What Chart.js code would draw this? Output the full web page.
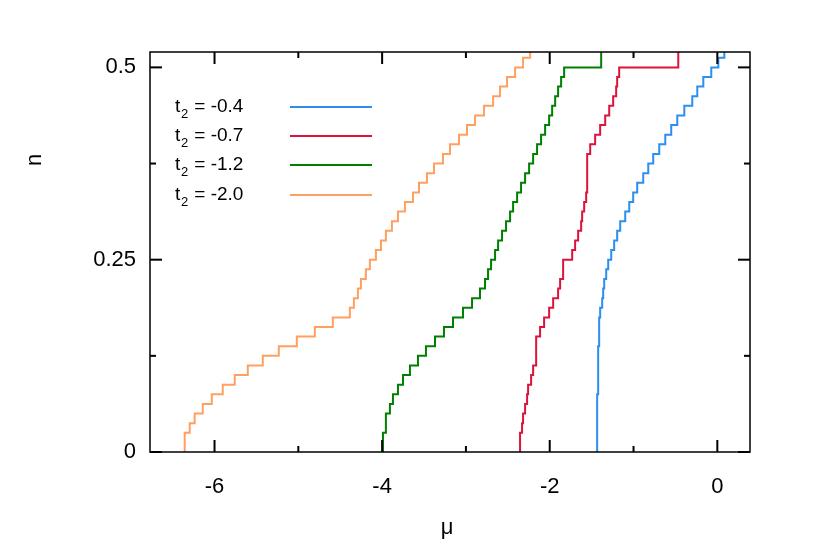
<!DOCTYPE html>
<html>
<head>
<meta charset="utf-8">
<script src="https://cdn.jsdelivr.net/npm/chart.js@4"></script>
<style>
  body { margin: 0; background: #fff; }
  #wrap { width: 830px; height: 552px; }
</style>
</head>
<body>
<div id="wrap"><canvas id="chart" width="830" height="552"></canvas></div>
<script>
// filling step in n, each entry below is the mu where the curve climbs one level
const nStep = 0.0125

const muT04 = [-1.434, -1.434, -1.434, -1.434, -1.434, -1.434, -1.422, -1.422, -1.422, -1.422, -1.422,
    -1.410, -1.410, -1.410, -1.398, -1.374, -1.362, -1.350, -1.326, -1.302, -1.266, -1.231, -1.195,
    -1.159, -1.099, -1.051, -1.004, -0.956, -0.884, -0.824, -0.765, -0.693, -0.621, -0.550, -0.478,
    -0.394, -0.299, -0.239, -0.167, -0.072, 0.012, 0.084]

const muT07 = [-2.354, -2.354, -2.330, -2.318, -2.294, -2.270, -2.258, -2.222, -2.198, -2.162, -2.162,
    -2.162, -2.115, -2.067, -2.007, -1.959, -1.900, -1.876, -1.840, -1.840, -1.732, -1.697, -1.661,
    -1.625, -1.613, -1.589, -1.565, -1.553, -1.553, -1.553, -1.553, -1.517, -1.458, -1.398, -1.338,
    -1.290, -1.243, -1.207, -1.195, -1.171, -0.466]

const muT12 = [-3.990, -3.990, -3.955, -3.955, -3.907, -3.871, -3.811, -3.751, -3.668, -3.572, -3.477,
    -3.369, -3.262, -3.154, -3.035, -2.927, -2.832, -2.772, -2.736, -2.700, -2.652, -2.616, -2.569,
    -2.521, -2.473, -2.437, -2.389, -2.342, -2.294, -2.246, -2.198, -2.151, -2.103, -2.055, -2.007,
    -1.971, -1.935, -1.900, -1.864, -1.828, -1.386]

const muT20 = [-6.356, -6.356, -6.296, -6.237, -6.141, -6.033, -5.902, -5.759, -5.603, -5.424, -5.233,
    -5.018, -4.803, -4.588, -4.385, -4.337, -4.289, -4.253, -4.194, -4.146, -4.074, -4.014, -3.955,
    -3.883, -3.811, -3.728, -3.632, -3.560, -3.465, -3.381, -3.274, -3.190, -3.082, -2.987, -2.891,
    -2.784, -2.676, -2.593, -2.509, -2.413, -2.318, -2.234]

const seriesLabels = ['-0.4', '-0.7', '-1.2', '-2.0']
const seriesColors = ['#2b8ff0', '#dc143c', '#008000', '#ffa060']

const xTicks = [-6, -4, -2, 0]
const xMinor = [-5, -3, -1]
const yTicks = [0, 0.25, 0.5]
const yMinor = [0.125, 0.375]

function toPoints(mu) {
    const pts = mu.map((m, i) => ({ x: m, y: i * nStep }))
    pts.push({ x: mu[mu.length - 1], y: 0.6 })
    return pts
}

const allMu = [muT04, muT07, muT12, muT20]
const datasets = allMu.map((mu, i) => ({
    label: seriesLabels[i],
    data: toPoints(mu),
    borderColor: seriesColors[i],
    borderWidth: 2,
    pointRadius: 0,
    stepped: 'after',
    fill: false
}))

const font = 'Liberation Sans, Arial, sans-serif'

// gnuplot-like frame: inward ticks on all four sides, titles and legend
const framePlugin = {
    id: 'frame',
    afterDatasetsDraw(chart) {
        const ctx = chart.ctx
        const a = chart.chartArea
        const xs = chart.scales.x, ys = chart.scales.y
        ctx.save()
        ctx.strokeStyle = '#000'
        ctx.lineWidth = 1.5
        ctx.strokeRect(a.left, a.top, a.right - a.left, a.bottom - a.top)
        ctx.lineWidth = 2
        const tick = (x1, y1, x2, y2) => { ctx.beginPath(); ctx.moveTo(x1, y1); ctx.lineTo(x2, y2); ctx.stroke() }
        xTicks.forEach(v => { const p = xs.getPixelForValue(v); tick(p, a.bottom, p, a.bottom - 12); tick(p, a.top, p, a.top + 12) })
        xMinor.forEach(v => { const p = xs.getPixelForValue(v); tick(p, a.bottom, p, a.bottom - 6); tick(p, a.top, p, a.top + 6) })
        yTicks.forEach(v => { const p = ys.getPixelForValue(v); tick(a.left, p, a.left + 12, p); tick(a.right, p, a.right - 12, p) })
        yMinor.forEach(v => { const p = ys.getPixelForValue(v); tick(a.left, p, a.left + 6, p); tick(a.right, p, a.right - 6, p) })

        ctx.fillStyle = '#000'
        ctx.font = '22px ' + font
        ctx.textAlign = 'center'
        ctx.textBaseline = 'middle'
        ctx.fillText('μ', 447, 528)
        ctx.save()
        ctx.translate(35, 160)
        ctx.rotate(-Math.PI / 2)
        ctx.fillText('n', 0, 0)
        ctx.restore()

        // legend
        const rows = [107, 136, 165, 195]
        rows.forEach((y, i) => {
            ctx.font = '19px ' + font
            ctx.textAlign = 'left'
            ctx.textBaseline = 'middle'
            ctx.fillText('t', 175, y)
            ctx.font = '13px ' + font
            ctx.fillText('2', 181, y + 7)
            ctx.font = '19px ' + font
            ctx.fillText(' = ' + seriesLabels[i], 189, y)
            ctx.strokeStyle = seriesColors[i]
            ctx.lineWidth = 2
            tick(290, y, 372, y)
        })
        ctx.restore()
    }
}

new Chart(document.getElementById('chart'), {
    type: 'line',
    data: { datasets: datasets },
    plugins: [framePlugin],
    options: {
        responsive: false,
        animation: false,
        layout: { padding: { top: 52, right: 80, left: 0, bottom: 0 } },
        plugins: { legend: { display: false }, tooltip: { enabled: false } },
        scales: {
            x: {
                type: 'linear', min: -6.77, max: 0.39,
                afterBuildTicks: (s) => { s.ticks = xTicks.map(v => ({ value: v })) },
                afterFit: (s) => { s.height = 100 },
                grid: { display: false, drawTicks: false },
                border: { display: false },
                ticks: { padding: 22, color: '#000', font: { size: 22, family: font }, callback: (v) => String(v) }
            },
            y: {
                type: 'linear', min: 0, max: 0.52,
                afterBuildTicks: (s) => { s.ticks = yTicks.map(v => ({ value: v })) },
                afterFit: (s) => { s.width = 150 },
                grid: { display: false, drawTicks: false },
                border: { display: false },
                ticks: { padding: 14, color: '#000', font: { size: 22, family: font }, callback: (v) => String(v) }
            }
        }
    }
})
</script>
</body>
</html>
